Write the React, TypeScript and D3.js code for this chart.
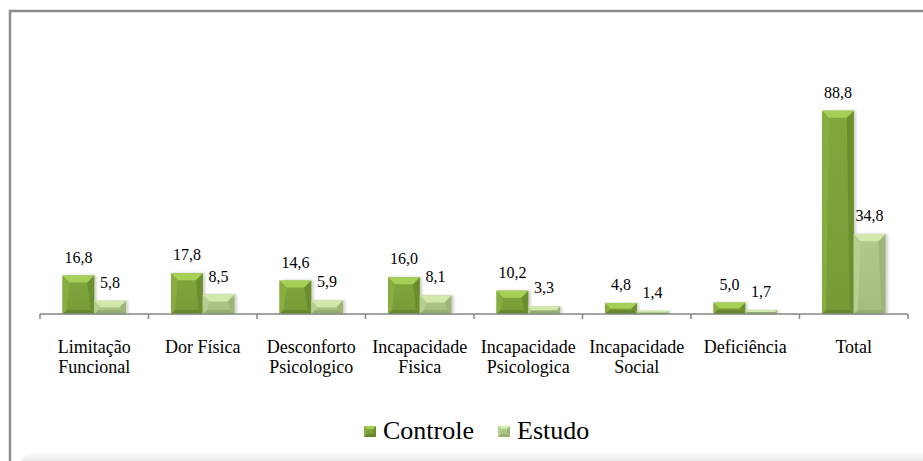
import React from "react";
import * as d3 from "d3";

const categories: string[][] = [
  ["Limitação", "Funcional"],
  ["Dor Física"],
  ["Desconforto", "Psicologico"],
  ["Incapacidade", "Fisica"],
  ["Incapacidade", "Psicologica"],
  ["Incapacidade", "Social"],
  ["Deficiência"],
  ["Total"],
];
const seriesNames = ["Controle", "Estudo"];
const controle = [16.8, 17.8, 14.6, 16.0, 10.2, 4.8, 5.0, 88.8];
const estudo = [5.8, 8.5, 5.9, 8.1, 3.3, 1.4, 1.7, 34.8];

const W = 923;
const H = 461;
const axisY = 314;
const x0Left = 40;
const x0Right = 908;
const FONT = "Liberation Serif";

const palettes: Record<string, { face: string; top: string; left: string; right: string; bottom: string }> = {
  Controle: { face: "#7ca13a", top: "#a6cf57", left: "#86ad40", right: "#6c8f2f", bottom: "#66882a" },
  Estudo: { face: "#acc484", top: "#d3e8ad", left: "#b7ce92", right: "#9db577", bottom: "#97ae71" },
};

function Bevel({ x, y, w, h, name, maxB = 7 }: { x: number; y: number; w: number; h: number; name: string; maxB?: number }) {
  const p = palettes[name];
  const b = Math.max(0, Math.min(maxB, h / 2, w / 2));
  const bb = Math.min(b, 4);
  const pts = (a: number[][]) => a.map((q) => q.join(",")).join(" ");
  return (
    <g>
      <rect x={x} y={y} width={w} height={h} fill={`url(#face-${name})`} />
      <polygon points={pts([[x, y + h], [x + w, y + h], [x + w - bb, y + h - bb], [x + bb, y + h - bb]])} fill={p.bottom} />
      <polygon points={pts([[x, y], [x + b, y + b], [x + bb, y + h - bb], [x, y + h]])} fill={p.left} />
      <polygon points={pts([[x + w, y], [x + w - b, y + b], [x + w - bb, y + h - bb], [x + w, y + h]])} fill={p.right} />
      <polygon points={pts([[x, y], [x + w, y], [x + w - b, y + b], [x + b, y + b]])} fill={p.top} />
    </g>
  );
}

export default function App() {
  const idx = categories.map((_, i) => String(i));
  const x0 = d3.scaleBand<string>().domain(idx).range([x0Left, x0Right]).padding(0);
  const x1 = d3
    .scaleBand<string>()
    .domain(seriesNames)
    .range([0, x0.bandwidth()])
    .paddingInner(0)
    .paddingOuter(0.711);
  const y = d3.scaleLinear().domain([0, 100]).range([axisY, 85]);
  const fmt = (v: number) => d3.format(".1f")(v).replace(".", ",");
  const data: Record<string, number[]> = { Controle: controle, Estudo: estudo };
  const ticks = d3.range(categories.length + 1).map((i) => x0Left + i * x0.step());

  return (
    <svg width={W} height={H} style={{ position: "absolute", left: 0, top: 0 }}>
      <defs>
        {seriesNames.map((n) => (
          <linearGradient key={n} id={`face-${n}`} x1="0" y1="0" x2="0" y2="1">
            <stop offset="0" stopColor={d3.color(palettes[n].face)!.brighter(0.1).toString()} />
            <stop offset="1" stopColor={d3.color(palettes[n].face)!.darker(0.12).toString()} />
          </linearGradient>
        ))}
        <linearGradient id="bottomShade" x1="0" y1="0" x2="0" y2="1">
          <stop offset="0" stopColor="#ffffff" />
          <stop offset="1" stopColor="#ececec" />
        </linearGradient>
        <filter id="shadow" x="-20%" y="-5%" width="140%" height="110%">
          <feDropShadow dx="2" dy="0" stdDeviation="1.5" floodColor="#000" floodOpacity="0.2" />
        </filter>
      </defs>
      <rect x={0} y={0} width={W} height={H} fill="#ffffff" />
      <polygon points={`20,461 30,451 ${W},451 ${W},461`} fill="url(#bottomShade)" />
      <path d={`M10,${H} V11 H${W}`} fill="none" stroke="#8c8c8c" strokeWidth={2.5} />

      {seriesNames.map((n) =>
        data[n].map((v, i) => {
          const bx = (x0(String(i)) as number) + (x1(n) as number);
          const bw = x1.bandwidth();
          const by = y(v);
          const bh = axisY - by;
          return (
            <g key={`${n}-${i}`} filter="url(#shadow)">
              <Bevel x={bx} y={by} w={bw} h={bh} name={n} />
            </g>
          );
        })
      )}

      <line x1={x0Left} x2={x0Right} y1={axisY} y2={axisY} stroke="#868686" strokeWidth={1.5} />
      {ticks.map((t, i) => (
        <line key={i} x1={t} x2={t} y1={axisY} y2={axisY + 5} stroke="#868686" strokeWidth={1.5} />
      ))}

      {seriesNames.map((n) =>
        data[n].map((v, i) => {
          const cx = (x0(String(i)) as number) + (x1(n) as number) + x1.bandwidth() / 2;
          return (
            <text key={`l-${n}-${i}`} x={cx} y={y(v) - 13} textAnchor="middle" fontSize={16} fill="#000" fontFamily={FONT}>
              {fmt(v)}
            </text>
          );
        })
      )}

      {categories.map((lines, i) => {
        const cx = (x0(String(i)) as number) + x0.bandwidth() / 2;
        return (
          <text key={`c-${i}`} textAnchor="middle" fontSize={18} fill="#000" fontFamily={FONT}>
            {lines.map((ln, j) => (
              <tspan key={j} x={cx} y={353 + j * 20}>
                {ln}
              </tspan>
            ))}
          </text>
        );
      })}

      {seriesNames.map((n, k) => {
        const lx = k === 0 ? 364 : 498;
        return (
          <g key={`leg-${n}`}>
            <Bevel x={lx} y={426} w={12} h={11} name={n} maxB={3} />
            <text x={lx + 19} y={439} fontSize={26} fill="#000" fontFamily={FONT}>
              {n}
            </text>
          </g>
        );
      })}
    </svg>
  );
}
